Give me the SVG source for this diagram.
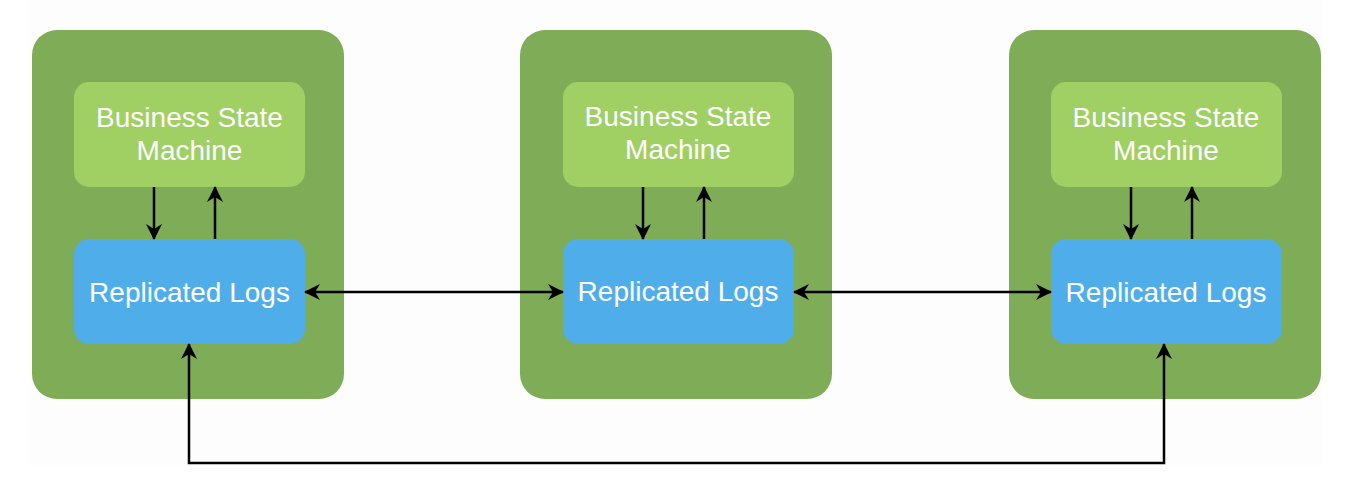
<svg xmlns="http://www.w3.org/2000/svg" width="1356" height="500" viewBox="0 0 1356 500">
<defs>
<style>
.outer{fill:#7fac56}
.bsm{fill:#a0cf64}
.log{fill:#4faee9}
.t{font-family:"Liberation Sans",Arial,sans-serif;font-size:28px;fill:#ffffff;text-anchor:middle}
.c{stroke:#000;stroke-width:2.5;fill:none}
</style>
<marker id="ah" viewBox="0 0 16 16" refX="15" refY="8" markerWidth="16" markerHeight="16" markerUnits="userSpaceOnUse" orient="auto-start-reverse">
<path d="M0,0 L16,8 L0,16 L5,8 Z" fill="#000"/>
</marker>
</defs>
<rect x="28" y="0" width="1295" height="465" fill="#fdfdfd"/>
<g id="node1">
<rect class="outer" x="32" y="30" width="312" height="369" rx="25"/>
<g id="bsm1"><rect class="bsm" x="74" y="82" width="231" height="105" rx="15"/>
<text class="t" x="189.5" y="127">Business State</text><text class="t" x="189.5" y="160">Machine</text></g>
<g id="log1"><rect class="log" x="74" y="239" width="231" height="105" rx="15"/>
<text class="t" x="189.5" y="302">Replicated Logs</text></g>
</g>
<g id="node2">
<rect class="outer" x="520" y="30" width="312" height="369" rx="25"/>
<g id="bsm2"><rect class="bsm" x="563" y="82" width="231" height="105" rx="15"/>
<text class="t" x="678" y="126">Business State</text><text class="t" x="678" y="159">Machine</text></g>
<g id="log2"><rect class="log" x="563" y="239" width="231" height="105" rx="15"/>
<text class="t" x="678" y="301">Replicated Logs</text></g>
</g>
<g id="node3">
<rect class="outer" x="1009" y="30" width="312" height="369" rx="25"/>
<g id="bsm3"><rect class="bsm" x="1051" y="82" width="231" height="105" rx="15"/>
<text class="t" x="1166" y="127">Business State</text><text class="t" x="1166" y="160">Machine</text></g>
<g id="log3"><rect class="log" x="1051" y="239" width="231" height="105" rx="15"/>
<text class="t" x="1166" y="302">Replicated Logs</text></g>
</g>
<g id="connectors">
<path class="c" d="M154,187 L154,239" marker-end="url(#ah)"/>
<path class="c" d="M215,239 L215,187" marker-end="url(#ah)"/>
<path class="c" d="M643,187 L643,239" marker-end="url(#ah)"/>
<path class="c" d="M704,239 L704,187" marker-end="url(#ah)"/>
<path class="c" d="M1131,187 L1131,239" marker-end="url(#ah)"/>
<path class="c" d="M1192,239 L1192,187" marker-end="url(#ah)"/>
<path class="c" d="M305,292 L563,292" marker-start="url(#ah)" marker-end="url(#ah)"/>
<path class="c" d="M794,292 L1051,292" marker-start="url(#ah)" marker-end="url(#ah)"/>
<path class="c" d="M189,344 L189,463 L1164,463 L1164,344" marker-start="url(#ah)" marker-end="url(#ah)"/>
</g>
</svg>
